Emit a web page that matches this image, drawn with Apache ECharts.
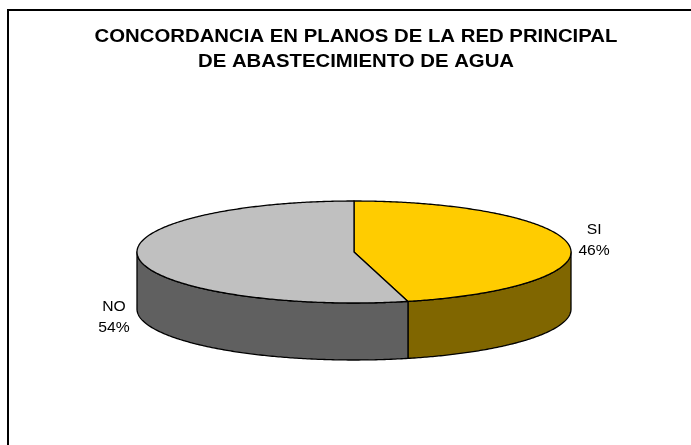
<!DOCTYPE html>
<html>
<head>
<meta charset="utf-8">
<script src="https://cdn.jsdelivr.net/npm/echarts@6/dist/echarts.min.js"></script>
<style>
  html, body { margin: 0; padding: 0; background: #ffffff; }
  #chart { width: 691px; height: 445px; }
</style>
</head>
<body>
<div id="chart"></div>
<script>
// Answers to the survey question
const categories = ['SI', 'NO'];
const values = [46, 54];
const titleLines = ['CONCORDANCIA EN PLANOS DE LA RED PRINCIPAL', 'DE ABASTECIMIENTO DE AGUA'];
const topColors = ['#FFCC00', '#C0C0C0'];
const sideColors = ['#806600', '#606060'];

const total = values.reduce((a, b) => a + b, 0);
const startFrac = [];
values.reduce((acc, v, i) => { startFrac[i] = acc; return acc + v / total; }, 0);

// Geometry of the tilted disc
const CX = 354, CY = 252, RX = 217, RY = 51, DEPTH = 57;
const FONT = '"Liberation Sans", Arial, sans-serif';

function pt(theta, dy) {
  // theta measured clockwise from 12 o'clock
  return [CX + RX * Math.sin(theta), CY - RY * Math.cos(theta) + (dy || 0)];
}
function arc(a0, a1, dy) {
  const n = Math.max(2, Math.ceil(Math.abs(a1 - a0) / 0.01));
  const out = [];
  for (let k = 0; k <= n; k++) out.push(pt(a0 + (a1 - a0) * k / n, dy));
  return out;
}

const chart = echarts.init(document.getElementById('chart'), null, { renderer: 'canvas' });

function renderSlice(params, api) {
  const i = params.dataIndex;
  const v = api.value(1);
  const a0 = startFrac[i] * Math.PI * 2;
  const a1 = a0 + v / total * Math.PI * 2;
  const children = [];
  const stroke = { stroke: '#000', lineWidth: 1.3, lineJoin: 'round' };

  // visible front wall: the part of the rim between 90° and 270°
  const f0 = Math.max(a0, Math.PI / 2), f1 = Math.min(a1, Math.PI * 3 / 2);
  if (f1 > f0) {
    const topEdge = arc(f0, f1, 0);
    const botEdge = arc(f1, f0, DEPTH);
    children.push({
      type: 'polygon', z2: 1,
      shape: { points: topEdge.concat(botEdge) },
      style: Object.assign({ fill: sideColors[i] }, stroke)
    });
  }
  // top face
  children.push({
    type: 'polygon', z2: 2,
    shape: { points: [[CX, CY]].concat(arc(a0, a1, 0)) },
    style: Object.assign({ fill: topColors[i] }, stroke)
  });
  // category label with percentage, pushed below the rim on the front half
  const mid = (a0 + a1) / 2;
  const front = Math.cos(mid) < 0;
  const lx = CX + (RX + 25) * Math.sin(mid);
  const ly = CY - (RY + 8) * Math.cos(mid) - 4 + (front ? DEPTH + 5 : 0);
  children.push({
    type: 'text', z2: 3,
    x: lx, y: ly, scaleX: 1.12,
    style: {
      x: 0, y: 0,
      text: categories[i] + '\n' + Math.round(v / total * 100) + '%',
      fill: '#000',
      font: '14px ' + FONT,
      align: 'center', verticalAlign: 'middle', lineHeight: 21
    }
  });
  return { type: 'group', children: children };
}

chart.setOption({
  animation: false,
  backgroundColor: '#ffffff',
  graphic: [{
    type: 'rect', z: -1,
    shape: { x: 8, y: 10, width: 700, height: 460 },
    style: { fill: 'none', stroke: '#000', lineWidth: 2 }
  }].concat(titleLines.map((t, k) => ({
    type: 'text',
    x: 356, y: 37 + k * 25, scaleX: 1.13,
    style: {
      x: 0, y: 0, text: t, fill: '#000',
      font: 'bold 18px ' + FONT,
      align: 'center', verticalAlign: 'middle'
    }
  }))),
  series: [{
    type: 'custom',
    coordinateSystem: 'none',
    data: categories.map((c, i) => [c, values[i]]),
    renderItem: renderSlice
  }]
});
</script>
</body>
</html>
